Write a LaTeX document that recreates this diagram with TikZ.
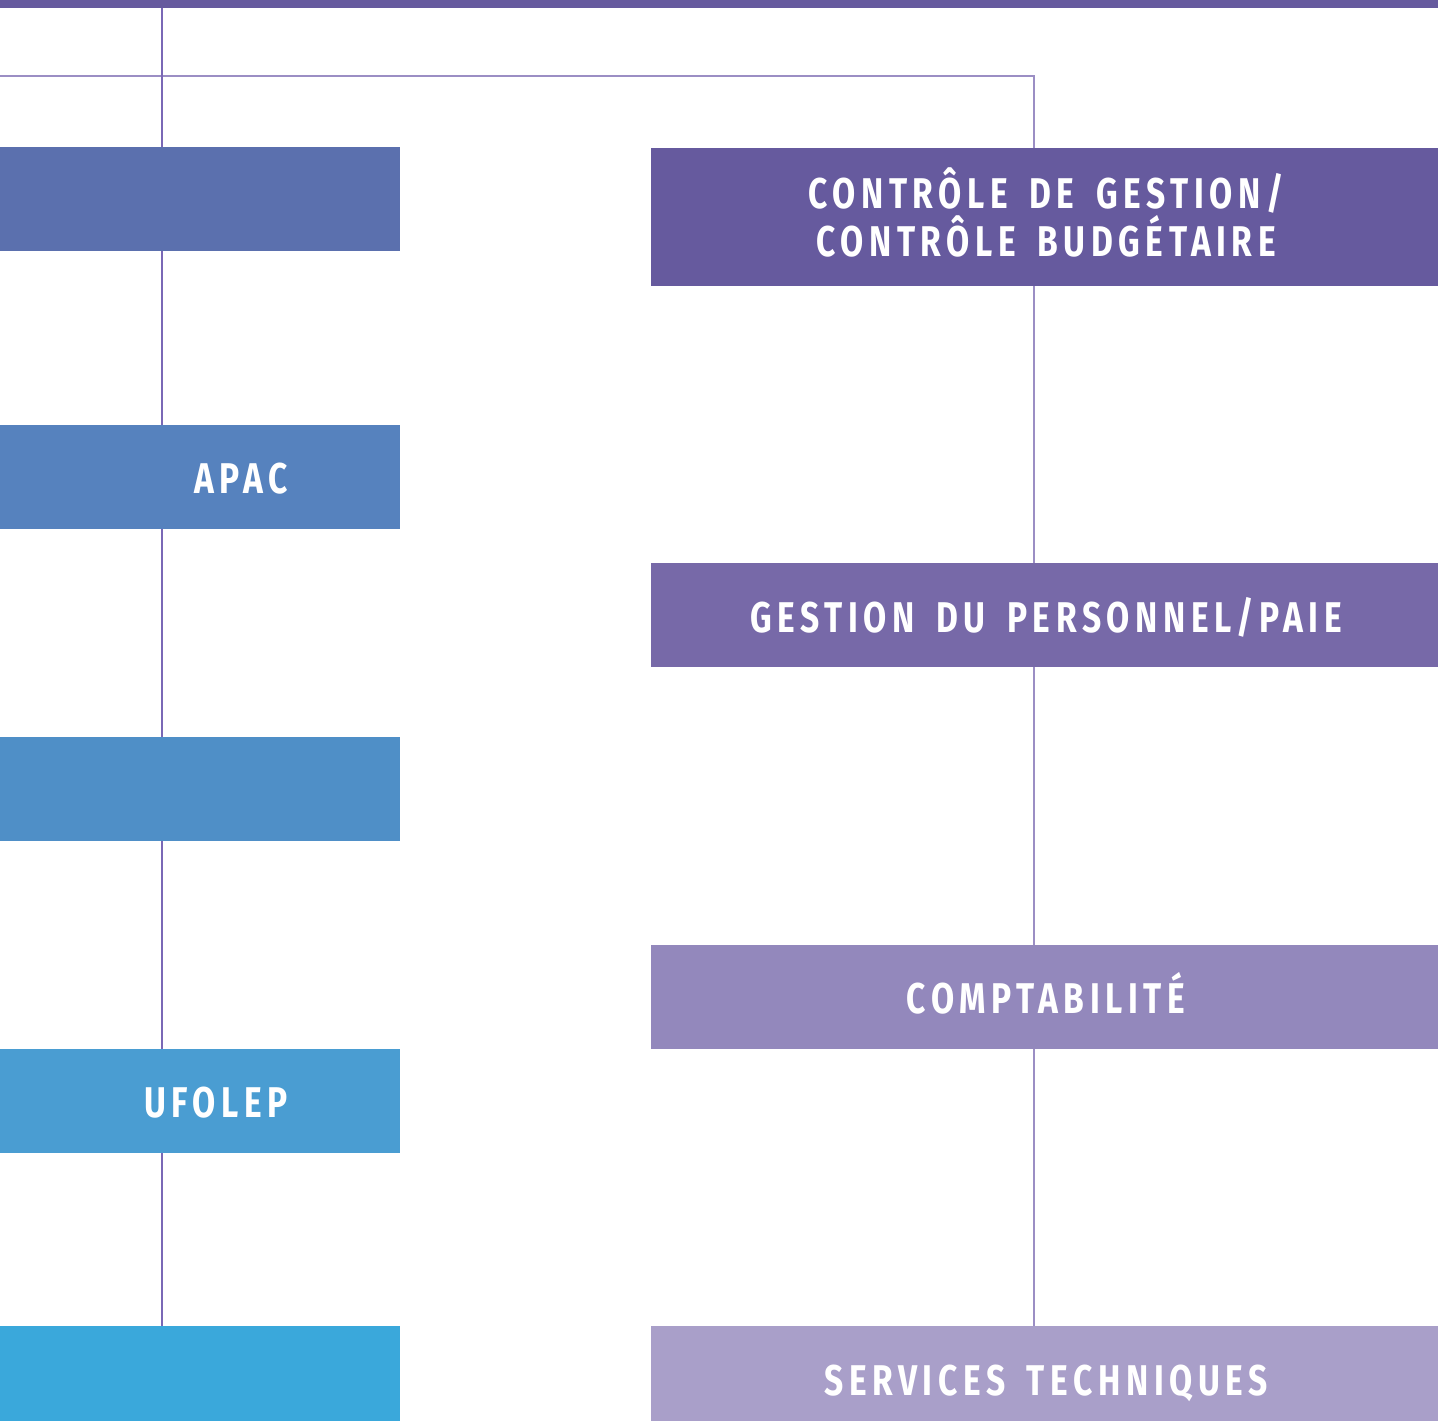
\documentclass[tikz,border=0pt]{standalone}
\usepackage{fontspec}
\newfontfamily\boxfont[FakeStretch=0.78,LetterSpace=13,WordSpace=1.6]{Fira Sans Bold}
\definecolor{topbar}{HTML}{665A9E}
\definecolor{lineC}{HTML}{7A68B6}
\definecolor{lineH}{HTML}{9B8EC4}
\definecolor{Lone}{HTML}{5B70AE}
\definecolor{Ltwo}{HTML}{5682BE}
\definecolor{Lthree}{HTML}{4F8FC7}
\definecolor{Lfour}{HTML}{4A9DD2}
\definecolor{Lfive}{HTML}{3AA8DB}
\definecolor{Rone}{HTML}{665A9E}
\definecolor{Rtwo}{HTML}{7769A8}
\definecolor{Rthree}{HTML}{9388BC}
\definecolor{Rfour}{HTML}{A99FC9}
\begin{document}
\begin{tikzpicture}[x=1pt,y=-1pt,
  lbox/.style={rectangle,inner sep=0pt,outer sep=0pt,minimum width=400pt,minimum height=104pt,anchor=north west},
  rbox/.style={rectangle,inner sep=0pt,outer sep=0pt,minimum width=787pt,anchor=north west},
  lbl/.style={text=white,font=\boxfont\fontsize{43}{48}\selectfont,inner sep=0pt},
  conn/.style={draw=lineC,line width=1.5pt},
  connh/.style={draw=lineH,line width=1.5pt}]
\useasboundingbox (0,0) rectangle (1438,1421);
\fill[white] (0,0) rectangle (1438,1421);
% top bar
\node[rectangle,fill=topbar,inner sep=0pt,minimum width=1438pt,minimum height=8pt,anchor=north west] (bar) at (0,0) {};
% left boxes
\node[lbox,fill=Lone] (L1) at (0,147) {};
\node[lbox,fill=Ltwo] (L2) at (0,425) {};
\node[lbox,fill=Lthree] (L3) at (0,737) {};
\node[lbox,fill=Lfour] (L4) at (0,1049) {};
\node[lbox,fill=Lfive,minimum height=95pt] (L5) at (0,1326) {};
\node[lbl,anchor=base east] (tL2) at (288,493) {APAC};
\node[lbl,anchor=base east] (tL4) at (288,1117) {UFOLEP};
% right boxes
\node[rbox,fill=Rone,minimum height=138pt] (R1) at (651,148) {};
\node[rbox,fill=Rtwo,minimum height=104pt] (R2) at (651,563) {};
\node[rbox,fill=Rthree,minimum height=104pt] (R3) at (651,945) {};
\node[rbox,fill=Rfour,minimum height=95pt] (R4) at (651,1326) {};
\node[lbl,anchor=base] (tR1a) at (1046,208) {CONTRÔLE DE GESTION/};
\node[lbl,anchor=base] (tR1b) at (1046,256) {CONTRÔLE BUDGÉTAIRE};
\node[lbl,anchor=base] (tR2) at (1046,632) {GESTION DU PERSONNEL/PAIE};
\node[lbl,anchor=base] (tR3) at (1046,1013) {COMPTABILITÉ};
\node[lbl,anchor=base] (tR4) at (1046,1395) {SERVICES TECHNIQUES};
% connectors
\coordinate (hl) at (0,76);
\coordinate (hr) at (1034,76);
\draw[connh] (hl) -- (hr) -- (hr |- R1.north);
\draw[conn] (162,8) -- (162,147);
\draw[conn] (L1.south -| 162,0) -- (L2.north -| 162,0);
\draw[conn] (L2.south -| 162,0) -- (L3.north -| 162,0);
\draw[conn] (L3.south -| 162,0) -- (L4.north -| 162,0);
\draw[conn] (L4.south -| 162,0) -- (L5.north -| 162,0);
\draw[connh] (R1.south -| hr) -- (R2.north -| hr);
\draw[connh] (R2.south -| hr) -- (R3.north -| hr);
\draw[connh] (R3.south -| hr) -- (R4.north -| hr);
\end{tikzpicture}
\end{document}
